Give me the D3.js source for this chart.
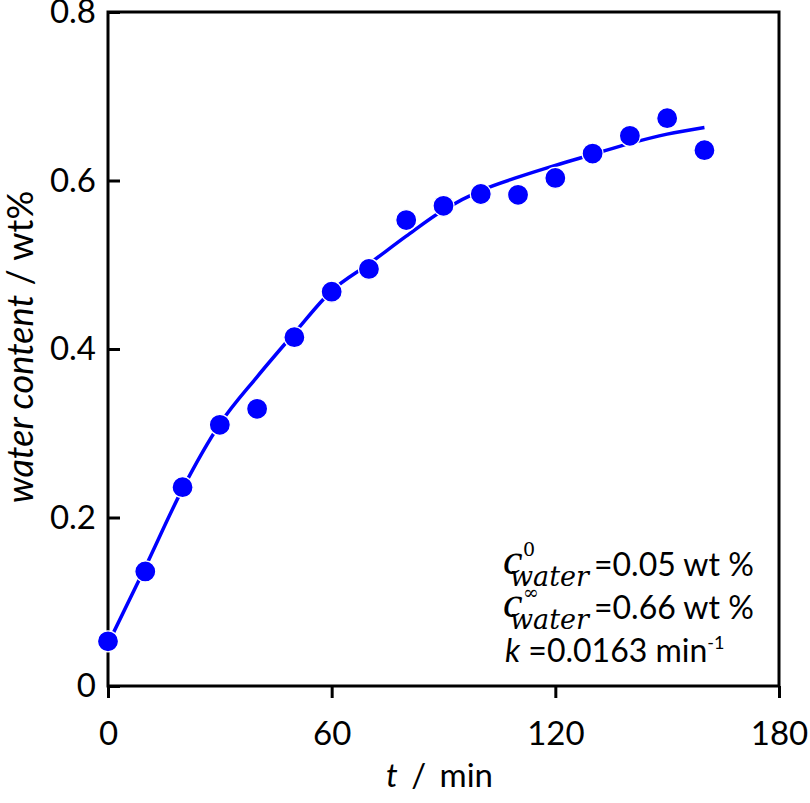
<!DOCTYPE html>
<html lang="en">
	<head>
		<meta charset="utf-8">
		<title>Water content vs time</title>
		<script type="text/javascript" src="https://cdn.jsdelivr.net/npm/d3@7"></script>
		<style type="text/css">
			body {
				margin: 0;
				background-color: #ffffff;
				font-family: Lato, "Open Sans", sans-serif;
			}
			svg { display: block; }
		</style>
	</head>
	<body>

		<script type="text/javascript">

			//Measured points (t in min, water content in wt%)
			var times = [0, 10, 20, 30, 40, 50, 60, 70, 80, 90, 100, 110, 120, 130, 140, 150, 160];
			var water = [0.053, 0.136, 0.236, 0.310, 0.329, 0.414, 0.468, 0.495, 0.553, 0.570,
			             0.584, 0.583, 0.603, 0.632, 0.653, 0.674, 0.636];

			//Fitted curve at the same times
			var fitTimes = [0, 10, 20, 30, 40, 50, 60, 70, 80, 90, 100, 110, 120, 130, 140, 150, 160];
			var fitWater = [0.050, 0.141, 0.234, 0.311, 0.367, 0.419, 0.469, 0.501, 0.534, 0.565,
			                0.588, 0.604, 0.618, 0.631, 0.644, 0.655, 0.663];

			//Axis ticks
			var xTicks = [0, 60, 120, 180];
			var yTicks = [0, 0.2, 0.4, 0.6, 0.8];

			//Annotation
			var annoLines = ["=0.05 wt %", "=0.66 wt %"];
			var annoSups = ["0", "\u221E"];
			var kText = " =0.0163 min";

			var w = 810;
			var h = 803;
			var mLeft = 108, mTop = 12, mRight = 779, mBottom = 686;
			var blue = "#0000ff";

			var xScale = d3.scaleLinear().domain([0, 180]).range([mLeft, mRight]);
			var yScale = d3.scaleLinear().domain([0, 0.8]).range([mBottom, mTop]);

			var svg = d3.select("body")
						.append("svg")
						.attr("width", w)
						.attr("height", h);

			//X axis, ticks pointing out
			var xAxis = d3.axisBottom(xScale)
							.tickValues(xTicks)
							.tickSizeInner(12)
							.tickSizeOuter(0)
							.tickPadding(24)
							.tickFormat(d3.format("d"));

			//Y axis, ticks pointing in
			var yAxis = d3.axisLeft(yScale)
							.tickValues(yTicks)
							.tickSizeInner(-12)
							.tickSizeOuter(0)
							.tickPadding(12)
							.tickFormat(function(d) { return d === 0 ? "0" : d.toFixed(1); });

			var gx = svg.append("g")
				.attr("transform", "translate(0," + mBottom + ")")
				.call(xAxis);

			var gy = svg.append("g")
				.attr("transform", "translate(" + mLeft + ",0)")
				.call(yAxis);

			[gx, gy].forEach(function(g) {
				g.select(".domain").remove();
				g.selectAll("line").attr("stroke", "#000").attr("stroke-width", 3);
				g.selectAll("text")
					.attr("fill", "#000")
					.attr("font-family", "Lato, sans-serif")
					.attr("font-size", "33px");
			});

			//Frame
			svg.append("rect")
				.attr("x", mLeft)
				.attr("y", mTop)
				.attr("width", mRight - mLeft)
				.attr("height", mBottom - mTop)
				.attr("fill", "none")
				.attr("stroke", "#000")
				.attr("stroke-width", 3);

			//Fit line
			var line = d3.line()
						.x(function(d) { return xScale(d[0]); })
						.y(function(d) { return yScale(d[1]); })
						.curve(d3.curveMonotoneX);

			svg.append("path")
				.datum(d3.zip(fitTimes, fitWater))
				.attr("d", line)
				.attr("fill", "none")
				.attr("stroke", blue)
				.attr("stroke-width", 3.5);

			//Points
			svg.selectAll("circle")
				.data(d3.zip(times, water))
				.enter()
				.append("circle")
				.attr("cx", function(d) { return xScale(d[0]); })
				.attr("cy", function(d) { return yScale(d[1]); })
				.attr("r", 10.5)
				.attr("fill", blue)
				.attr("stroke", "#fff")
				.attr("stroke-width", 1.2);

			//Axis titles
			var xt = svg.append("text")
				.attr("x", (mLeft + mRight) / 2 - 4)
				.attr("y", 787)
				.attr("text-anchor", "middle")
				.attr("font-size", "33px")
				.attr("word-spacing", "5px");
			xt.append("tspan").attr("font-style", "italic").text("t");
			xt.append("tspan").text(" / min");

			var yt = svg.append("text")
				.attr("transform", "translate(33," + 347 + ") rotate(-90)")
				.attr("text-anchor", "middle")
				.attr("font-size", "36px");
			yt.append("tspan").attr("font-style", "italic").text("water content");
			yt.append("tspan").text(" / wt%");

			//Annotation block
			var serif = "'DejaVu Serif', serif";
			var baseY = [576, 619];
			annoLines.forEach(function(txt, i) {
				var y0 = baseY[i];
				svg.append("text")
					.attr("x", 503).attr("y", y0 - 2)
					.attr("font-family", "'Liberation Serif', serif").attr("font-style", "italic")
					.attr("font-size", "44px")
					.text("c");
				svg.append("text")
					.attr("x", 523).attr("y", y0 - 20)
					.attr("font-family", serif)
					.attr("font-size", "19px")
					.text(annoSups[i]);
				svg.append("text")
					.attr("x", 510).attr("y", y0 + 10)
					.attr("font-family", serif).attr("font-style", "italic")
					.attr("font-size", "27px")
					.text("water");
				svg.append("text")
					.attr("x", 594).attr("y", y0)
					.attr("font-size", "32px")
					.text(txt);
			});

			var kt = svg.append("text")
				.attr("x", 505).attr("y", 662)
				.attr("font-size", "32px");
			kt.append("tspan").attr("font-style", "italic").text("k");
			kt.append("tspan").text(kText);
			kt.append("tspan").attr("font-size", "18px").attr("dy", -13).text("-1");

		</script>
	</body>
</html>
